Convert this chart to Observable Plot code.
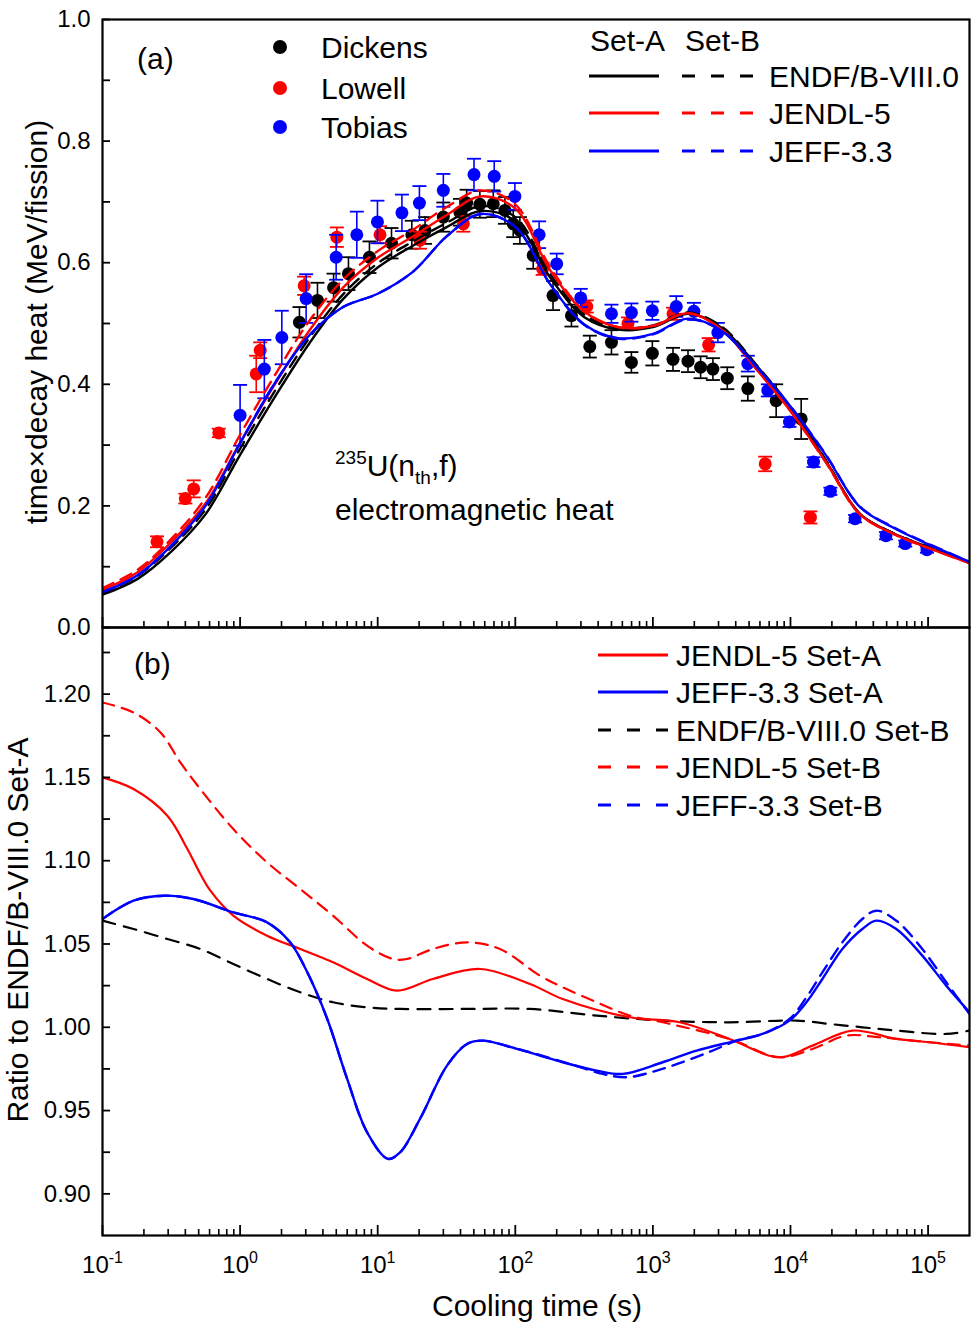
<!DOCTYPE html>
<html>
<head>
<meta charset="utf-8">
<script src="https://cdn.jsdelivr.net/npm/d3@7"></script>
<script src="https://cdn.jsdelivr.net/npm/@observablehq/plot@0.6"></script>
<style>
html,body{margin:0;padding:0;background:#fff;}
#chart{width:974px;height:1326px;}
#chart svg{display:block;overflow:visible;}
</style>
</head>
<body>
<div id="chart"></div>
<script>
// ---------------- data ----------------
// Panel (a): time x decay heat (MeV/fission) on a common cooling-time grid (s)
const gridT  = [0.1,0.18,0.32,0.56,1,1.8,3.2,5.6,10,18,32,56,100,180,320,560,1000,1800,3200,5600,1e4,1.8e4,3.2e4,5.6e4,1e5,2e5];
const endfA  = [0.054,0.080,0.126,0.186,0.284,0.380,0.468,0.540,0.592,0.628,0.659,0.685,0.668,0.575,0.510,0.490,0.494,0.516,0.492,0.432,0.362,0.275,0.187,0.155,0.132,0.107];
const endfB  = [0.057,0.085,0.133,0.194,0.294,0.390,0.477,0.548,0.599,0.635,0.666,0.693,0.675,0.581,0.514,0.493,0.497,0.518,0.494,0.433,0.363,0.276,0.187,0.155,0.132,0.107];
const jendlA = [0.062,0.091,0.142,0.204,0.304,0.401,0.489,0.559,0.608,0.643,0.679,0.709,0.689,0.587,0.519,0.494,0.496,0.517,0.489,0.426,0.356,0.273,0.186,0.154,0.131,0.106];
const jendlB = [0.065,0.095,0.147,0.213,0.317,0.416,0.505,0.572,0.619,0.654,0.692,0.719,0.696,0.592,0.520,0.494,0.496,0.517,0.489,0.426,0.356,0.272,0.186,0.154,0.131,0.106];
const jeffA  = [0.058,0.086,0.136,0.200,0.303,0.403,0.481,0.527,0.549,0.585,0.644,0.680,0.659,0.564,0.498,0.476,0.483,0.508,0.487,0.430,0.363,0.284,0.198,0.164,0.137,0.108];
const jeffB  = [0.058,0.086,0.136,0.200,0.303,0.403,0.481,0.527,0.549,0.585,0.644,0.680,0.659,0.564,0.497,0.475,0.482,0.507,0.487,0.430,0.364,0.285,0.199,0.165,0.138,0.108];

// Experimental data: time (s), value, uncertainty
const dickensT = [2.70,3.65,4.78,6.13,8.71,12.6,17.7,22.1,30.0,39.6,44.3,55.3,69.2,84.1,96.6,108,135,188,256,348,500,698,991,1400,1800,2222,2730,3473,4898,7870,11960];
const dickensV = [0.502,0.538,0.559,0.582,0.609,0.632,0.646,0.653,0.675,0.683,0.698,0.696,0.697,0.686,0.664,0.653,0.612,0.546,0.513,0.462,0.469,0.436,0.451,0.441,0.438,0.428,0.425,0.410,0.393,0.373,0.343];
const dickensE = [0.025,0.029,0.023,0.027,0.026,0.025,0.023,0.022,0.024,0.022,0.022,0.022,0.022,0.022,0.022,0.022,0.022,0.024,0.018,0.018,0.020,0.017,0.020,0.019,0.018,0.018,0.018,0.018,0.020,0.027,0.033];
const lowellT = [0.249,0.40,0.46,0.70,1.31,1.40,2.92,5.05,10.4,20.3,41.9,158,331,659,1400,2541,6550,13960];
const lowellV = [0.141,0.212,0.228,0.320,0.417,0.456,0.562,0.642,0.646,0.637,0.664,0.590,0.528,0.500,0.516,0.465,0.269,0.181];
const lowellE = [0.009,0.008,0.014,0.007,0.030,0.013,0.015,0.016,0.014,0.014,0.013,0.010,0.010,0.010,0.010,0.011,0.012,0.010];
const tobiasT = [1.0,1.50,2.01,3.02,4.99,7.05,9.96,15.0,20.1,30.0,50.1,70.3,99.3,149,200,299,500,698,991,1479,1986,2966,4898,6843,9840,14700,19500,29460,49400,68200,98100];
const tobiasV = [0.349,0.425,0.477,0.541,0.609,0.646,0.667,0.682,0.698,0.719,0.745,0.742,0.709,0.646,0.598,0.542,0.516,0.518,0.521,0.528,0.520,0.485,0.434,0.390,0.338,0.272,0.224,0.179,0.151,0.138,0.128];
const tobiasE = [0.050,0.048,0.044,0.040,0.037,0.038,0.035,0.030,0.028,0.027,0.026,0.025,0.022,0.022,0.017,0.015,0.015,0.015,0.015,0.017,0.014,0.016,0.013,0.010,0.008,0.008,0.006,0.006,0.006,0.005,0.005];

// Panel (b): ratio to ENDF/B-VIII.0 Set-A
const rJendlAT = [0.1,0.168,0.296,0.414,0.514,0.608,0.893,1.57,2.74,4.74,8.37,13.8,25.2,55.3,128,221,679,1563,3606,8318,14450,28180,58750,102100,2e5];
const rJendlAV = [1.150,1.143,1.127,1.107,1.092,1.082,1.067,1.055,1.047,1.039,1.029,1.022,1.029,1.035,1.026,1.017,1.006,1.003,0.993,0.982,0.989,0.998,0.993,0.991,0.988];
const rJeffAT = [0.1,0.168,0.277,0.457,0.893,1.57,2.31,3.08,4.30,6.0,8.37,11.9,14.6,20.3,31.9,44.6,58.2,103,151,221,391,604,1178,2080,4055,6266,9840,13060,17060,23820,33270,42070,58750,90780,135500,2e5];
const rJeffAV = [1.065,1.076,1.079,1.077,1.069,1.063,1.051,1.033,1.005,0.969,0.937,0.921,0.925,0.945,0.977,0.990,0.992,0.987,0.983,0.979,0.974,0.972,0.979,0.986,0.992,0.996,1.004,1.015,1.029,1.047,1.059,1.064,1.059,1.043,1.025,1.009];
const rEndfBT = [0.1,0.168,0.296,0.514,0.893,1.57,2.74,4.74,8.37,14.6,44.6,128,391,1178,3606,11070,19190,33270,58750,135500,2e5];
const rEndfBV = [1.064,1.059,1.053,1.047,1.038,1.029,1.021,1.015,1.012,1.011,1.011,1.011,1.007,1.004,1.003,1.004,1.002,1.000,0.998,0.996,0.998];
const rJendlBT = [0.1,0.168,0.264,0.368,0.514,0.893,1.57,2.74,4.74,8.37,12.9,16.3,25.2,44.6,77.3,151,221,391,679,1178,3606,8318,14450,25470,44260,102100,2e5];
const rJendlBV = [1.195,1.189,1.177,1.159,1.143,1.119,1.099,1.083,1.067,1.049,1.041,1.041,1.047,1.051,1.047,1.031,1.024,1.015,1.007,1.003,0.993,0.982,0.987,0.995,0.994,0.991,0.989];
const rJeffBT = [0.1,0.168,0.277,0.457,0.893,1.57,2.31,3.08,4.30,6.0,8.37,11.9,14.6,20.3,31.9,44.6,58.2,103,128,249,432,646,1067,1758,2716,4055,6266,9840,13060,17060,23820,33270,42070,58750,90780,135500,2e5];
const rJeffBV = [1.065,1.076,1.079,1.077,1.069,1.063,1.051,1.033,1.005,0.969,0.937,0.921,0.925,0.945,0.977,0.990,0.992,0.987,0.985,0.978,0.972,0.970,0.974,0.980,0.986,0.992,0.996,1.005,1.018,1.033,1.051,1.065,1.070,1.064,1.047,1.027,1.008];

// Axes / labels
const xMajor = [0.1,1,10,100,1000,1e4,1e5];
const xMinorMult = [2,3,4,5,6,7,8,9];
const yTicksTop = [0,0.1,0.2,0.3,0.4,0.5,0.6,0.7,0.8,0.9,1.0];
const yLabelsTop = [0,0.2,0.4,0.6,0.8,1.0];
const yTicksBot = [0.9,0.925,0.95,0.975,1.0,1.025,1.05,1.075,1.1,1.125,1.15,1.175,1.2,1.225];
const yLabelsBot = [0.90,0.95,1.00,1.05,1.10,1.15,1.20];
const expNames = ["Dickens","Lowell","Tobias"];
const libNames = ["ENDF/B-VIII.0","JENDL-5","JEFF-3.3"];
const ratioNames = ["JENDL-5 Set-A","JEFF-3.3 Set-A","ENDF/B-VIII.0 Set-B","JENDL-5 Set-B","JEFF-3.3 Set-B"];
const titleTop = "time\u00d7decay heat (MeV/fission)";
const titleBot = "Ratio to ENDF/B-VIII.0 Set-A";
const titleX = "Cooling time (s)";

// ---------------- rendering ----------------
const FONT = '"Liberation Sans", Arial, Helvetica, sans-serif';
const BLACK = "#000000", RED = "#ff0000", BLUE = "#0000ff";
const DASH = "12,8";
const xMinor = xMajor.flatMap(m => xMinorMult.map(k => m * k)).filter(v => v < 2e5);

const rows = (ts, vs, extra) => ts.map((t, i) => ({t, v: vs[i], ...(extra ? {e: extra[i]} : {})}));
const capSymbol = {draw(ctx, size) { const w = Math.sqrt(size / Math.PI); ctx.moveTo(-w, 0); ctx.lineTo(w, 0); }};

function expMarks(data, color) {
  return [
    Plot.ruleX(data, {x: "t", y1: d => d.v - d.e, y2: d => d.v + d.e, stroke: color, strokeWidth: 1.6}),
    Plot.dot(data, {x: "t", y: d => d.v + d.e, symbol: capSymbol, r: 7, stroke: color, strokeWidth: 1.8, fill: "none"}),
    Plot.dot(data, {x: "t", y: d => d.v - d.e, symbol: capSymbol, r: 7, stroke: color, strokeWidth: 1.8, fill: "none"}),
    Plot.dot(data, {x: "t", y: "v", r: 6.5, fill: color, stroke: "none"})
  ];
}
const line = (data, color, dash, w = 2.4) => Plot.line(data, {x: "t", y: "v", stroke: color, strokeWidth: w, strokeDasharray: dash, curve: "catmull-rom", clip: true});

const common = {
  width: 974, marginLeft: 102, marginRight: 5,
  x: {type: "log", domain: [0.1, 2e5], label: null},
  style: {fontFamily: FONT, fontSize: "24px", overflow: "visible", color: "#000"}
};

const topSvg = Plot.plot({
  ...common,
  height: 627, marginTop: 19, marginBottom: 0,
  y: {domain: [0, 1], label: null},
  marks: [
    ...expMarks(rows(dickensT, dickensV, dickensE), BLACK),
    ...expMarks(rows(lowellT, lowellV, lowellE), RED),
    ...expMarks(rows(tobiasT, tobiasV, tobiasE), BLUE),
    line(rows(gridT, endfA), BLACK, null),
    line(rows(gridT, endfB), BLACK, DASH),
    line(rows(gridT, jendlA), RED, null),
    line(rows(gridT, jendlB), RED, DASH),
    line(rows(gridT, jeffA), BLUE, null),
    line(rows(gridT, jeffB), BLUE, DASH),
    Plot.axisY({ticks: yTicksTop, tickSize: -8, tickFormat: () => "", strokeWidth: 1.8, label: null}),
    Plot.axisY({ticks: yLabelsTop, tickSize: 0, tickPadding: 12, tickFormat: d => d.toFixed(1), fontSize: 24, label: null}),
    Plot.axisX({anchor: "bottom", ticks: xMajor, tickSize: -10, tickFormat: () => "", strokeWidth: 1.8, label: null}),
    Plot.axisX({anchor: "bottom", ticks: xMinor, tickSize: -6, tickFormat: () => "", strokeWidth: 1.6, label: null}),
    Plot.frame({stroke: "#000", strokeWidth: 2.2})
  ]
});

const botSvg = Plot.plot({
  ...common,
  height: 699, marginTop: 0, marginBottom: 91,
  y: {domain: [0.875, 1.24], label: null},
  marks: [
    line(rows(rEndfBT, rEndfBV), BLACK, "13,9", 2.2),
    line(rows(rJendlAT, rJendlAV), RED, null, 2.2),
    line(rows(rJendlBT, rJendlBV), RED, DASH, 2.2),
    line(rows(rJeffAT, rJeffAV), BLUE, null, 2.4),
    line(rows(rJeffBT, rJeffBV), BLUE, DASH, 2.4),
    Plot.axisY({ticks: yTicksBot, tickSize: -8, tickFormat: () => "", strokeWidth: 1.8, label: null}),
    Plot.axisY({ticks: yLabelsBot, tickSize: 0, tickPadding: 12, tickFormat: d => d.toFixed(2), fontSize: 24, label: null}),
    Plot.axisX({anchor: "bottom", ticks: xMajor, tickSize: -10, tickFormat: () => "", strokeWidth: 1.8, label: null}),
    Plot.axisX({anchor: "bottom", ticks: xMinor, tickSize: -6, tickFormat: () => "", strokeWidth: 1.6, label: null}),
    Plot.axisX({anchor: "bottom", ticks: xMajor, tickSize: 0, tickPadding: 20, tickFormat: d => String(Math.round(Math.log10(d))), fontSize: 24, label: null}),
    Plot.frame({stroke: "#000", strokeWidth: 2.2})
  ]
});

const chart = document.getElementById("chart");
chart.appendChild(topSvg);
chart.appendChild(botSvg);

// ---- superscript x tick labels (10^n); skip the unlabeled tick-only axes
d3.select(botSvg).selectAll('g[aria-label="x-axis tick label"] text').each(function() {
  const e = this.textContent;
  if (!e) return;
  const s = d3.select(this);
  s.text(null);
  s.append("tspan").text("10");
  s.append("tspan").attr("dy", "-0.6em").attr("font-size", "16px").text(e);
});

// ---- annotations & legends (panel a)
const gt = d3.select(topSvg).append("g").attr("fill", "#000").attr("font-size", 30).attr("text-anchor", "start");
gt.append("text").attr("x", 137).attr("y", 58).attr("dy", "0.35em").text("(a)");
const expColors = [BLACK, RED, BLUE];
[47, 88, 127].forEach((y, i) => {
  gt.append("circle").attr("cx", 280).attr("cy", y).attr("r", 7).attr("fill", expColors[i]);
  gt.append("text").attr("x", 321).attr("y", y).attr("dy", "0.35em").text(expNames[i]);
});
gt.append("text").attr("x", 590).attr("y", 40).attr("dy", "0.35em").text("Set-A");
gt.append("text").attr("x", 685).attr("y", 40).attr("dy", "0.35em").text("Set-B");
const libColors = [BLACK, RED, BLUE];
[76, 113, 151].forEach((y, i) => {
  gt.append("line").attr("x1", 589).attr("x2", 659).attr("y1", y).attr("y2", y).attr("stroke", libColors[i]).attr("stroke-width", 3);
  gt.append("line").attr("x1", 682).attr("x2", 754).attr("y1", y).attr("y2", y).attr("stroke", libColors[i]).attr("stroke-width", 3).attr("stroke-dasharray", "13,16");
  gt.append("text").attr("x", 769).attr("y", y).attr("dy", "0.35em").text(libNames[i]);
});
const ann = gt.append("text").attr("x", 335).attr("y", 476);
ann.append("tspan").attr("font-size", 19).attr("dy", -12).text("235");
ann.append("tspan").attr("dy", 12).text("U(n");
ann.append("tspan").attr("font-size", 19).attr("dy", 8).text("th");
ann.append("tspan").attr("dy", -8).text(",f)");
gt.append("text").attr("x", 335).attr("y", 520).text("electromagnetic heat");
gt.append("text").attr("transform", "translate(36,322) rotate(-90)").attr("text-anchor", "middle").attr("dy", "0.35em").text(titleTop);

// ---- legends (panel b)
const gb = d3.select(botSvg).append("g").attr("fill", "#000").attr("font-size", 30).attr("text-anchor", "start");
gb.append("text").attr("x", 134).attr("y", 36).attr("dy", "0.35em").text("(b)");
const ratioStyles = [[RED, null], [BLUE, null], [BLACK, "13,16"], [RED, "13,16"], [BLUE, "13,16"]];
[28, 65, 103, 140, 178].forEach((y, i) => {
  const l = gb.append("line").attr("x1", 598).attr("x2", 668).attr("y1", y).attr("y2", y).attr("stroke", ratioStyles[i][0]).attr("stroke-width", 3);
  if (ratioStyles[i][1]) l.attr("stroke-dasharray", ratioStyles[i][1]);
  gb.append("text").attr("x", 676).attr("y", y).attr("dy", "0.35em").text(ratioNames[i]);
});
gb.append("text").attr("transform", "translate(17,303) rotate(-90)").attr("text-anchor", "middle").attr("dy", "0.35em").text(titleBot);
gb.append("text").attr("x", 537).attr("y", 678).attr("text-anchor", "middle").attr("dy", "0.35em").text(titleX);
</script>
</body>
</html>
